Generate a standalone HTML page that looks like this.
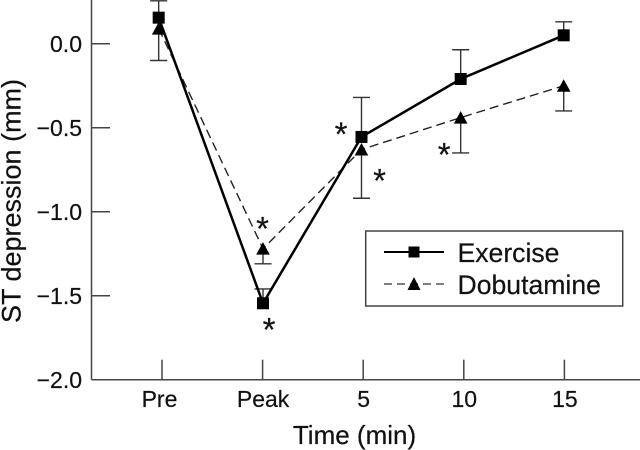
<!DOCTYPE html>
<html lang="en">
<head>
<meta charset="utf-8">
<title>ST depression over time</title>
<style>
  html, body { margin: 0; padding: 0; background: #fff; }
  svg { display: block; font-family: "Liberation Sans", Arial, sans-serif; fill: #111; }
  text { stroke: #111; stroke-width: 0.2; }
</style>
</head>
<body>
<svg id="chart" width="640" height="450" viewBox="0 0 640 450" xmlns="http://www.w3.org/2000/svg">
  <rect width="640" height="450" fill="#fff"></rect>
  <g id="axes"></g>
  <g id="series"></g>
  <g id="stars"></g>
  <text transform="translate(20.5,201) rotate(-90)" text-anchor="middle" font-size="27">ST depression (mm)</text>
  <text x="354.5" y="444" text-anchor="middle" font-size="26">Time (min)</text>
  <g>
    <rect x="365.7" y="231" width="257" height="75" fill="#fff" stroke="#444" stroke-width="1.5"></rect>
    <g>
      <line x1="384" y1="252" x2="444" y2="252" stroke="#000" stroke-width="2"></line>
      <rect x="408.5" y="246.5" width="11" height="11" fill="#000"></rect>
      <text x="457.5" y="262" font-size="26.6">Exercise</text>
    </g>
    <g>
      <line x1="384" y1="284" x2="444" y2="284" stroke="#333" stroke-width="1.3" stroke-dasharray="8 5"></line>
      <polygon points="414,277 420.5,290 407.5,290" fill="#000"></polygon>
      <text x="457.5" y="294" font-size="26.6">Dobutamine</text>
    </g>
  </g>
</svg>
<script>
const categories = ["Pre", "Peak", "5", "10", "15"];
const samplePositions = [-0.033, 1.004, 1.983, 2.969, 3.993];
const yTicks = [0, -0.5, -1, -1.5, -2];
const yTickLabels = ["0.0", "\u22120.5", "\u22121.0", "\u22121.5", "\u22122.0"];
const exerciseValues = [0.155, -1.545, -0.555, -0.21, 0.05];
const exerciseUpper = [0.255, -1.46, -0.32, -0.036, 0.13];
const dobutamineValues = [0.09, -1.22, -0.63, -0.44, -0.25];
const dobutamineLower = [-0.10, -1.31, -0.92, -0.65, -0.40];

const NS = "http://www.w3.org/2000/svg";
const xScale = function (c) { return 162 + 100.6 * c; };
const yScale = function (v) { return 43.7 - 168 * v; };
const axisX = 91.5;
const axisY = yScale(-2);
const axes = document.getElementById("axes");
const seriesLayer = document.getElementById("series");
const starsLayer = document.getElementById("stars");

function make(parent, tag, attrs, text) {
  const el = document.createElementNS(NS, tag);
  Object.keys(attrs).forEach(function (k) { el.setAttribute(k, attrs[k]); });
  if (text !== undefined) el.textContent = text;
  parent.appendChild(el);
  return el;
}

const axisStyle = { stroke: "#444", "stroke-width": 1.5 };

const yAxisLine = make(axes, "line", Object.assign({ x1: axisX, y1: 0, x2: axisX, y2: axisY }, axisStyle));


const xAxisLine = make(axes, "line", Object.assign({ x1: axisX, y1: axisY, x2: 640, y2: axisY }, axisStyle));



yTicks.forEach(function (v, i) {
  const y = yScale(v);
  const tick = make(axes, "line", Object.assign({ x1: axisX, y1: y, x2: 110, y2: y }, axisStyle));
  
  
  const label = make(axes, "text", { x: 82, y: y + 8.2, "text-anchor": "end", "font-size": 23 }, yTickLabels[i]);
  
  
});

categories.forEach(function (c, i) {
  const x = xScale(i);
  const tick = make(axes, "line", Object.assign({ x1: x, y1: axisY - 20, x2: x, y2: axisY }, axisStyle));
  
  
  const label = make(axes, "text", { x: x + (i === 0 ? -2.5 : 0.5), y: 407, "text-anchor": "middle", "font-size": 23 }, c);
  
  
});

function drawErrorBars(values, bounds, seriesName) {
  values.forEach(function (v, i) {
    const x = xScale(samplePositions[i]);
    const stem = make(seriesLayer, "line", { x1: x, y1: yScale(v), x2: x, y2: yScale(bounds[i]), stroke: "#333", "stroke-width": 1.4 });
    
    
    const cap = make(seriesLayer, "line", { x1: x - 8.5, y1: yScale(bounds[i]), x2: x + 8.5, y2: yScale(bounds[i]), stroke: "#333", "stroke-width": 1.4 });
    
    
  });
}

function linePoints(values) {
  return values.map(function (v, i) {
    return xScale(samplePositions[i]).toFixed(1) + "," + yScale(v).toFixed(1);
  }).join(" ");
}

drawErrorBars(exerciseValues, exerciseUpper, 'exercise');
drawErrorBars(dobutamineValues, dobutamineLower, 'dobutamine');

const dobLine = make(seriesLayer, "polyline", { points: linePoints(dobutamineValues), fill: "none", stroke: "#222", "stroke-width": 1.4, "stroke-dasharray": "9 5" });


const exLine = make(seriesLayer, "polyline", { points: linePoints(exerciseValues), fill: "none", stroke: "#000", "stroke-width": 2.5 });



dobutamineValues.forEach(function (v, i) {
  const x = xScale(samplePositions[i]);
  const y = yScale(v);
  const tri = make(seriesLayer, "polygon", { points: x + "," + (y - 6.5) + " " + (x + 6.8) + "," + (y + 6) + " " + (x - 6.8) + "," + (y + 6), fill: "#000" });
  
  
});
exerciseValues.forEach(function (v, i) {
  const x = xScale(samplePositions[i]);
  const y = yScale(v);
  const sq = make(seriesLayer, "rect", { x: x - 6, y: y - 6, width: 12, height: 12, fill: "#000" });
  
  
});

function star(x, y) {
  const s = make(starsLayer, "text", { x: x, y: y + 16.5, "text-anchor": "middle", "font-size": 33 }, "*");
  
  
}
star(xScale(samplePositions[1]) - 0.5, yScale(dobutamineValues[1]) - 25);
star(xScale(samplePositions[1]) + 6, yScale(exerciseValues[1]) + 21);
star(xScale(samplePositions[2]) - 20.5, yScale(exerciseValues[2]) - 8);
star(xScale(samplePositions[2]) + 18, yScale(dobutamineValues[2]) + 26);
star(xScale(samplePositions[3]) - 16.5, yScale(dobutamineLower[3]) - 3.5);
</script>
</body>
</html>
